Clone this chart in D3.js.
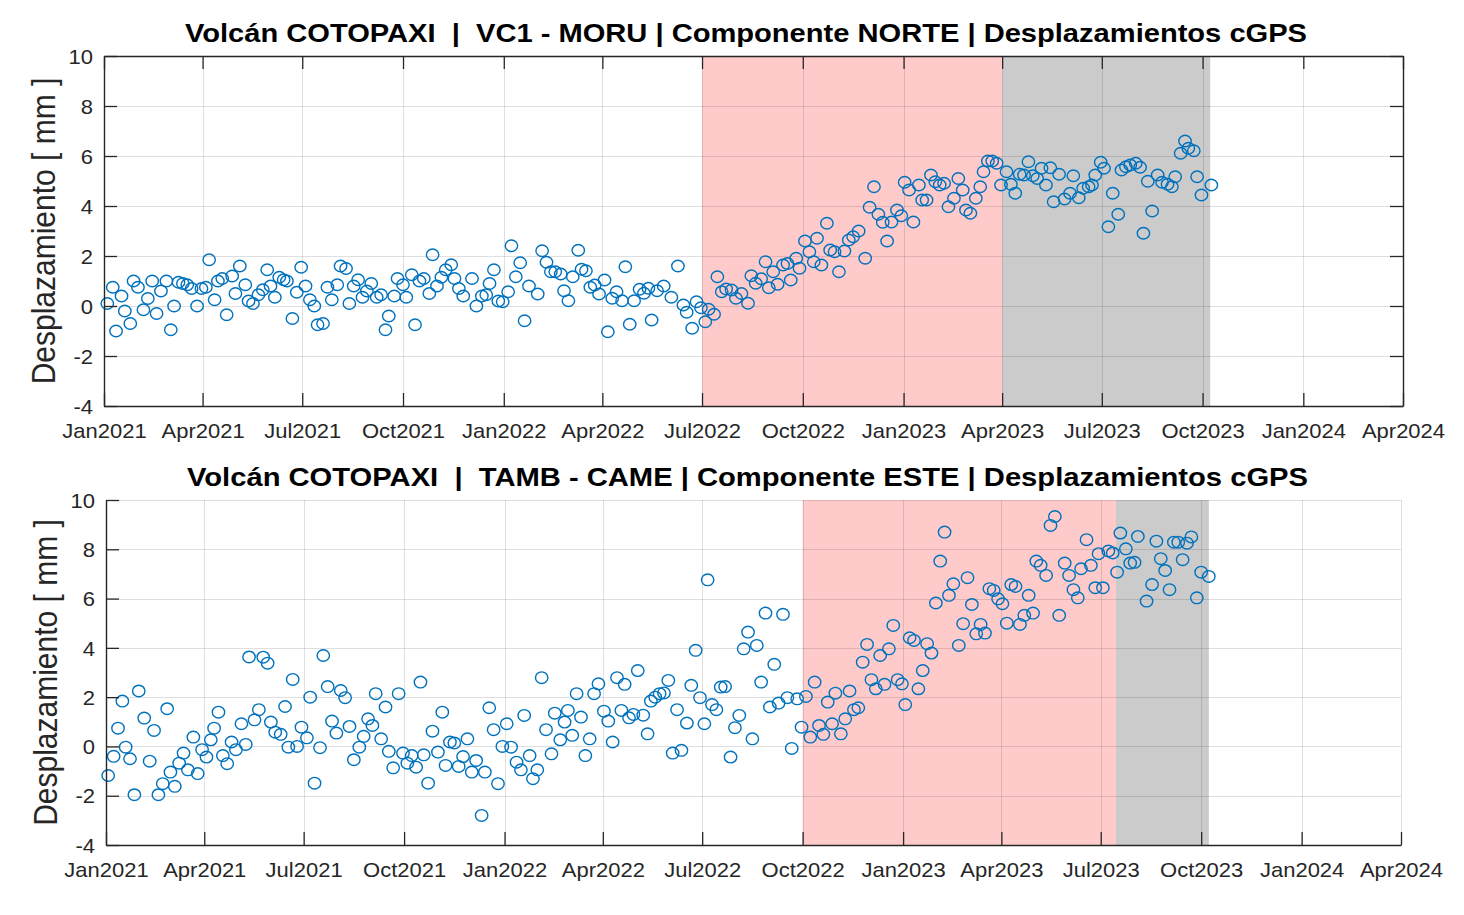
<!DOCTYPE html>
<html>
<head>
<meta charset="utf-8">
<script src="https://cdn.jsdelivr.net/npm/d3@7"></script>
<style>
html,body{margin:0;padding:0;background:#fff;}
svg{display:block;font-family:"Liberation Sans",Arial,sans-serif;}
</style>
</head>
<body>
<svg id="chart" width="1464" height="915"></svg>
<script>
// ---------------- data ----------------
const epoch = "2021-01-01";
const xDomain = ["2021-01-01", "2024-04-01"];
const xTickDates = ["2021-01-01","2021-04-01","2021-07-01","2021-10-01","2022-01-01","2022-04-01","2022-07-01","2022-10-01","2023-01-01","2023-04-01","2023-07-01","2023-10-01","2024-01-01","2024-04-01"];
const yTicks = [-4,-2,0,2,4,6,8,10];
const yLabel = "Desplazamiento [ mm ]";

const titleNorte = "Volcán COTOPAXI  |  VC1 - MORU | Componente NORTE | Desplazamientos cGPS";
const titleEste  = "Volcán COTOPAXI  |  TAMB - CAME | Componente ESTE | Desplazamientos cGPS";

// days since 2021-01-01
const norteDays = [3,8,11,16,19,24,27,31,36,40,44,48,52,57,61,64,68,72,76,80,85,89,93,96,101,104,108,112,117,120,124,129,132,136,141,145,149,152,156,160,164,167,172,176,180,184,188,192,195,200,204,208,213,216,221,224,228,232,236,240,244,249,253,257,260,265,268,273,276,281,284,288,292,297,300,304,308,312,317,320,324,328,336,340,345,349,352,356,360,364,369,372,376,380,384,388,396,400,404,408,412,417,420,424,428,433,436,440,444,448,452,457,460,464,468,473,476,480,484,489,493,497,500,505,511,518,524,529,532,537,541,545,549,552,557,560,564,568,573,577,582,588,591,595,600,604,607,611,615,620,624,627,632,635,640,644,648,651,655,660,663,667,671,676,680,684,689,695,699,703,707,711,715,719,724,728,731,735,739,744,747,751,755,759,763,767,771,776,780,784,787,791,796,800,803,807,811,815,819,824,828,832,836,840,844,848,852,856,860,864,867,872,877,882,885,890,894,899,902,905,910,913,917,921,926,929,933,937,942,946,949,953,957,962,966,971,975,978,983,987,990,995,998,1002,1011];
const norteVals = [0.1,0.75,-1.0,0.4,-0.2,-0.7,1.0,0.75,-0.15,0.3,1.0,-0.3,0.6,1.0,-0.95,0.0,0.95,0.9,0.85,0.7,0.0,0.7,0.75,1.85,0.25,1.0,1.1,-0.35,1.2,0.5,1.6,0.85,0.2,0.1,0.45,0.65,1.45,0.8,0.35,1.15,1.05,1.0,-0.5,0.55,1.55,0.8,0.25,0.0,-0.75,-0.7,0.75,0.25,0.85,1.6,1.5,0.1,0.8,1.05,0.35,0.6,0.9,0.35,0.45,-0.95,-0.4,0.4,1.1,0.85,0.35,1.25,-0.75,1.0,1.1,0.5,2.05,0.8,1.15,1.45,1.65,1.1,0.7,0.4,1.1,0.0,0.4,0.45,0.9,1.45,0.2,0.17,0.57,2.41,1.17,1.73,-0.59,0.8,0.48,2.21,1.75,1.37,1.37,1.28,0.61,0.21,1.17,2.23,1.47,1.41,0.75,0.84,0.48,1.04,-1.03,0.31,0.57,0.21,1.57,-0.73,0.21,0.67,0.51,0.71,-0.56,0.61,0.8,0.35,1.6,0.04,-0.25,-0.89,0.17,-0.07,-0.63,-0.13,-0.33,1.17,0.57,0.68,0.64,0.31,0.5,0.11,1.21,0.91,1.09,1.77,0.73,1.37,0.87,1.64,1.7,1.04,1.91,1.51,2.6,2.17,1.77,2.71,1.64,3.31,2.24,2.17,1.37,2.2,2.64,2.77,3.0,1.91,3.95,4.77,3.67,3.35,2.6,3.36,3.84,3.61,4.95,4.64,3.36,4.84,4.24,4.24,5.24,4.97,4.84,4.91,3.97,4.31,5.1,4.64,3.84,3.71,4.31,4.77,5.37,5.8,5.8,5.71,4.84,5.37,4.87,4.51,5.27,5.24,5.77,5.21,5.1,5.51,4.84,5.53,4.17,5.27,4.28,4.51,5.21,4.33,4.71,4.77,4.84,5.24,5.75,5.51,3.17,4.51,3.67,5.44,5.57,5.64,5.71,5.55,2.91,4.99,3.8,5.24,4.95,4.87,4.77,5.17,6.11,6.6,6.31,6.21,5.17,4.44,4.84];

const esteDays = [2,7,11,15,18,22,26,30,35,40,44,48,52,56,59,63,67,71,75,80,84,88,92,96,99,103,107,111,115,119,124,128,131,136,140,144,148,151,155,160,164,167,171,175,179,184,187,191,196,199,203,207,211,215,219,223,227,232,236,240,244,247,252,256,259,263,268,272,276,280,284,288,291,295,299,304,308,311,315,319,323,327,331,335,339,344,347,351,355,359,363,367,371,376,380,383,388,391,395,399,403,408,411,416,420,423,427,431,435,439,443,447,451,456,460,464,468,472,475,479,483,487,492,496,499,503,507,511,515,519,523,527,532,536,540,544,548,551,555,559,563,567,572,576,580,584,588,592,596,600,604,608,612,616,620,624,628,633,637,641,645,649,653,657,661,665,668,673,677,681,685,689,693,697,701,705,709,713,717,721,725,729,732,736,740,744,748,752,756,760,764,768,772,776,781,785,789,793,797,801,805,809,813,817,821,825,829,833,837,841,845,849,852,856,861,865,869,873,878,882,886,890,893,898,902,906,909,913,918,922,926,929,934,938,942,945,953,958,962,966,970,974,978,982,986,990,994,999,1003,1010];
const esteVals = [-1.18,-0.4,0.74,1.84,-0.03,-0.5,-1.96,2.25,1.15,-0.6,0.65,-1.96,-1.51,1.53,-1.04,-1.62,-0.68,-0.27,-0.95,0.38,-1.1,-0.13,-0.43,0.27,0.74,1.39,-0.37,-0.7,0.18,-0.13,0.92,0.08,3.63,1.08,1.49,3.62,3.38,0.99,0.58,0.49,1.62,-0.03,2.72,0.0,0.78,0.35,2.0,-1.49,-0.05,3.69,2.43,1.03,0.54,2.27,1.98,0.81,-0.54,-0.03,0.41,1.12,0.85,2.14,0.31,1.6,-0.2,-0.87,2.14,-0.27,-0.68,-0.37,-0.84,2.61,-0.34,-1.49,0.62,-0.23,1.39,-0.77,0.18,0.14,-0.81,-0.41,0.31,-1.04,-0.57,-2.8,-1.04,1.57,0.68,-1.51,0.0,0.92,-0.03,-0.64,-0.95,1.26,-0.37,-1.31,-0.95,2.79,0.68,-0.3,1.35,0.27,0.99,1.46,0.45,2.14,1.19,-0.37,0.31,2.14,2.54,1.43,1.03,0.18,2.79,1.46,2.52,1.16,1.3,3.08,1.27,0.51,1.84,2.0,2.14,2.17,2.68,-0.27,1.49,-0.16,0.95,2.48,3.9,1.98,0.92,6.76,1.7,1.49,2.41,2.43,-0.43,0.76,1.26,3.96,4.64,0.31,4.1,2.61,5.41,1.6,3.33,1.76,5.36,1.98,-0.08,1.93,0.78,2.03,0.38,2.61,0.85,0.49,1.8,0.92,2.16,0.51,1.12,2.25,1.49,1.57,3.42,4.14,2.71,2.34,3.69,2.52,3.96,4.91,2.71,2.54,1.7,4.41,4.3,2.34,3.08,4.17,3.79,5.82,7.52,8.7,6.13,6.6,4.1,4.98,6.85,5.76,4.57,4.95,4.6,6.4,6.33,5.99,5.79,5.0,6.57,6.49,4.95,5.32,6.13,5.41,7.52,7.35,6.94,8.97,9.33,5.32,7.44,6.94,6.36,6.03,7.21,8.39,7.35,6.44,7.82,6.44,7.93,7.85,7.07,8.66,8.02,7.44,7.47,8.52,5.9,6.57,8.33,7.62,7.14,6.36,8.29,8.29,7.58,8.25,8.5,6.03,7.07,6.9];

// shaded periods
const norteRojo = ["2022-07-01","2023-04-01"];
const norteGris = ["2023-04-01","2023-10-08"];
const esteRojo  = ["2022-10-01","2023-07-15"];
const esteGris  = ["2023-07-15","2023-10-08"];

// ---------------- drawing ----------------
const parse = d3.timeParse("%Y-%m-%d");
const t0 = parse(epoch);
const svg = d3.select("#chart");
const INK = "#262626";
const SX = 1.1; // horizontal stretch of the original figure's text

function panel(cfg) {
  const x = d3.scaleTime().domain(xDomain.map(parse)).range([cfg.L, cfg.R]);
  const y = d3.scaleLinear().domain([-4, 10]).range([cfg.B, cfg.T]);
  const g = svg.append("g");
  const tickDates = xTickDates.map(parse);

  // shaded periods
  [[cfg.rojo, "#FFCACA"], [cfg.gris, "#CBCBCB"]].forEach(([p, c]) => {
    g.append("rect")
      .attr("x", x(parse(p[0]))).attr("y", cfg.T)
      .attr("width", x(parse(p[1])) - x(parse(p[0])))
      .attr("height", cfg.B - cfg.T)
      .attr("fill", c);
  });

  // grid
  const grid = g.append("g").attr("stroke", "rgba(38,38,38,0.15)").attr("stroke-width", 1);
  grid.selectAll(".gx").data(tickDates).join("line")
    .attr("x1", d => Math.round(x(d)) + 0.5).attr("x2", d => Math.round(x(d)) + 0.5)
    .attr("y1", cfg.T).attr("y2", cfg.B);
  grid.selectAll(".gy").data(yTicks).join("line")
    .attr("y1", d => Math.round(y(d)) + 0.5).attr("y2", d => Math.round(y(d)) + 0.5)
    .attr("x1", cfg.L).attr("x2", cfg.R);

  // points
  const pts = d3.zip(cfg.days, cfg.vals);
  g.append("g").selectAll("ellipse").data(pts).join("ellipse")
    .attr("cx", d => x(d3.timeDay.offset(t0, d[0])))
    .attr("cy", d => y(d[1]))
    .attr("rx", 6.2).attr("ry", 5.8)
    .attr("fill", "none")
    .attr("stroke", "#0072BD")
    .attr("stroke-width", 1.4);

  // axes
  const fmt = d3.timeFormat("%b%Y");
  const xAxis = g.append("g").attr("transform", `translate(0,${cfg.B})`)
    .call(d3.axisBottom(x).tickValues(tickDates).tickFormat(fmt)
      .tickSizeInner(-13).tickSizeOuter(0).tickPadding(18));
  const yAxis = g.append("g").attr("transform", `translate(${cfg.L},0)`)
    .call(d3.axisLeft(y).tickValues(yTicks).tickFormat(d => String(d))
      .tickSizeInner(-13).tickSizeOuter(0).tickPadding(10));
  if (cfg.box) {
    g.append("g").attr("transform", `translate(0,${cfg.T})`)
      .call(d3.axisTop(x).tickValues(tickDates).tickFormat("").tickSizeInner(-13).tickSizeOuter(0));
    g.append("g").attr("transform", `translate(${cfg.R},0)`)
      .call(d3.axisRight(y).tickValues(yTicks).tickFormat("").tickSizeInner(-13).tickSizeOuter(0));
  }
  g.selectAll(".domain").attr("stroke", INK).attr("stroke-width", 1.4);
  g.selectAll(".tick line").attr("stroke", INK).attr("stroke-width", 1.3);
  xAxis.selectAll("text").attr("fill", INK).attr("font-size", 20)
    .attr("font-family", '"Liberation Sans", Arial, sans-serif')
    .attr("transform", `scale(${SX},1)`);
  yAxis.selectAll("text").attr("fill", INK).attr("font-size", 20)
    .attr("font-family", '"Liberation Sans", Arial, sans-serif')
    .attr("dy", "0.36em")
    .attr("transform", `scale(${SX},1)`);

  // title
  svg.append("text")
    .attr("x", cfg.titleX).attr("y", cfg.titleY)
    .attr("textLength", cfg.titleLen).attr("lengthAdjust", "spacingAndGlyphs")
    .attr("font-size", 25).attr("font-weight", "bold").attr("fill", "#000")
    .style("white-space", "pre")
    .text(cfg.title);

  // y label
  svg.append("text")
    .attr("transform", `translate(${cfg.labelX},${(cfg.T + cfg.B) / 2}) scale(1.12,1) rotate(-90)`)
    .attr("text-anchor", "middle")
    .attr("font-size", 30).attr("fill", INK)
    .text(yLabel);
}

panel({L:104, R:1403, T:56, B:406, box:true,
  days:norteDays, vals:norteVals, rojo:norteRojo, gris:norteGris,
  title:titleNorte, titleX:185, titleLen:1122, titleY:42, labelX:55});
panel({L:106, R:1401, T:500, B:845, box:false,
  days:esteDays, vals:esteVals, rojo:esteRojo, gris:esteGris,
  title:titleEste, titleX:187, titleLen:1121, titleY:486, labelX:57});
</script>
</body>
</html>
